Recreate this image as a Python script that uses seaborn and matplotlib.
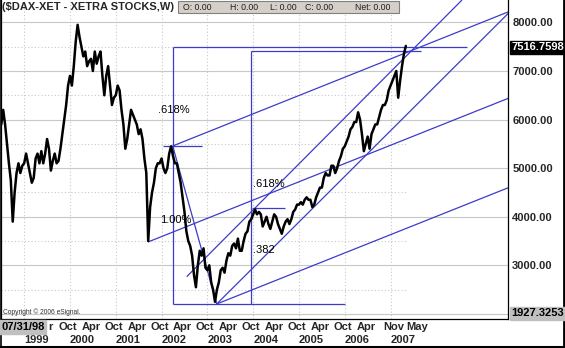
import numpy as np
import pandas as pd
import matplotlib
matplotlib.use("Agg")
import matplotlib.pyplot as plt
from matplotlib.lines import Line2D
from matplotlib.patches import Rectangle
import matplotlib.transforms as mtransforms
import seaborn as sns

# ---------------- data (semi-monthly readings, 1st and 15th of each month) ----------------
dax_1998 = [5900, 6200, 5900, 5500, 5100, 4750, 3900, 4500, 4900, 5100, 4900, 5050]
dax_1999 = [5100, 5300, 5100, 4900, 4700, 4800, 5200, 5300, 5100, 5350, 5100, 5300,
            5600, 5400, 4950, 5150, 5300, 5100, 5150, 5400, 5700, 6000, 6300, 6700]
dax_2000 = [6900, 6700, 7100, 7600, 7950, 7700, 7500, 7300, 7400, 7100, 7200, 7250,
            7000, 7400, 7150, 7300, 7400, 6900, 6500, 6900, 7100, 6700, 6300, 6450]
dax_2001 = [6500, 6700, 6600, 6200, 5900, 5400, 5600, 5900, 6200, 6100, 6000, 5900,
            5700, 5800, 5600, 5200, 4900, 3500, 4200, 4500, 4700, 5000, 5100, 5100]
dax_2002 = [5200, 5000, 4900, 5000, 5300, 5450, 5250, 5100, 5100, 4900, 4700, 4400,
            4100, 3700, 3500, 3400, 3200, 2800, 2550, 3000, 3300, 3200, 3350, 2950]
dax_2003 = [2900, 3000, 2650, 2500, 2250, 2500, 2650, 2900, 2950, 2850, 3100, 3250,
            3200, 3400, 3450, 3350, 3550, 3300, 3300, 3500, 3650, 3700, 3900, 3950]
dax_2004 = [4050, 4150, 4050, 4100, 4050, 3800, 3900, 4000, 3850, 3750, 3900, 4050,
            4000, 3850, 3750, 3650, 3800, 3900, 3950, 3850, 3950, 4100, 4150, 4250]
dax_2005 = [4250, 4300, 4250, 4350, 4400, 4350, 4350, 4200, 4250, 4400, 4500, 4600,
            4600, 4800, 4900, 4850, 4850, 5050, 5050, 4900, 5000, 5150, 5250, 5400]
dax_2006 = [5450, 5550, 5650, 5800, 5850, 5950, 5950, 6150, 6000, 5700, 5350, 5500,
            5650, 5400, 5700, 5800, 5900, 5900, 6050, 6200, 6300, 6300, 6400, 6600]
dax_2007 = [6700, 6800, 6900, 7000, 6450, 6800, 7100, 7350, 7516]
series_start = 1998.5          # 1 July 1998
last_price = "7516.7598"
cursor_price = "1927.3253"
cursor_date = "07/31/98"

# analysis lines (decimal year, index level)
ln_x0 = [2002.243, 2003.957, 2002.243, 2003.957, 2002.243, 2002.03, 2003.97,
         2002.243, 2002.549, 2003.204, 2001.704, 2003.204, 2002.243]
ln_y0 = [7490, 7420, 7490, 7420, 2205, 5457, 4187,
         5457, 2767, 2205, 3481, 2205, 5457]
ln_x1 = [2002.243, 2003.957, 2008.67, 2007.66, 2006.005, 2002.88, 2004.695,
         2009.571, 2008.56, 2009.571, 2009.571, 2009.571, 2003.204]
ln_y1 = [2205, 2205, 7490, 7420, 2205, 5457, 4187,
         8217, 8461, 8187, 6438, 4598, 2205]

fib_text = [".618%", "1.00%", ".618%", ".382"]
fib_x = [2001.92, 2001.966, 2003.997, 2003.997]
fib_y = [6197, 3934, 4674, 3316]

# first label is the tail of "Apr" left uncovered by the cursor-date box
month_lbl = ["r", "Oct", "Apr", "Oct", "Apr", "Oct", "Apr", "Oct", "Apr", "Oct",
             "Apr", "Oct", "Apr", "Oct", "Apr", "Nov", "May"]
month_pos = [1999.53, 1999.75, 2000.25, 2000.75, 2001.25, 2001.75, 2002.25, 2002.75,
             2003.25, 2003.75, 2004.25, 2004.75, 2005.25, 2005.75, 2006.25, 2006.833, 2007.333]
year_lbl = ["1999", "2000", "2001", "2002", "2003", "2004", "2005", "2006", "2007"]
year_pos = [1999.0, 2000.0, 2001.0, 2002.0, 2003.0, 2004.0, 2005.0, 2006.0, 2007.0]
price_ticks = [3000, 4000, 5000, 6000, 7000, 8000]

# ---------------- build ----------------
prices = dax_1998 + dax_1999 + dax_2000 + dax_2001 + dax_2002 + dax_2003 + dax_2004 + dax_2005 + dax_2006 + dax_2007
df = pd.DataFrame({"t": series_start + np.arange(len(prices)) / 24.0, "close": prices})

sns.set_style("white")
plt.rcParams["font.family"] = ["Liberation Sans", "DejaVu Sans"]

W, H = 565, 348
fig = plt.figure(figsize=(W / 100, H / 100), dpi=100)
fig.patch.set_facecolor("white")

def fx(x):
    return x / W

def fy(y):
    return 1 - y / H

ax = fig.add_axes([fx(1), fy(319), 507 / W, 319 / H])
ax.set_xlim(1998.494, 2009.564)
ax.set_ylim(1896, 8461)
ax.set_facecolor("white")

grid_c = "#c8c8c8"
last_t = df["t"].iloc[-1]
for v in [2000] + price_ticks:
    ax.axhline(v, color=grid_c, lw=0.8, zorder=0)
for v in [2500, 3500, 4500, 5500, 6500, 7500]:
    ax.hlines(v, ax.get_xlim()[0], last_t, color=grid_c, lw=0.8, linestyles=(0, (1, 2)), zorder=0)
for t in year_pos:
    ax.axvline(t, color=grid_c, lw=0.8, ls=(0, (1, 2)), zorder=0)

blue = "#3c3cc8"
for x0, y0, x1, y1 in zip(ln_x0, ln_y0, ln_x1, ln_y1):
    ax.plot([x0, x1], [y0, y1], color=blue, lw=0.9, zorder=2, solid_capstyle="butt")

sns.lineplot(data=df, x="t", y="close", color="black", lw=1.8, ax=ax, zorder=3)
ax.set_xlabel("")
ax.set_ylabel("")

for s, x, y in zip(fib_text, fib_x, fib_y):
    ax.text(x, y, s, fontsize=8, color="black", va="center", ha="left", zorder=4)

ax.yaxis.tick_right()
ax.set_yticks(price_ticks)
ax.set_yticklabels([f"{v:.2f}" for v in price_ticks], fontsize=8, fontweight="bold")
ax.tick_params(axis="y", length=0, pad=3)

ax.set_xticks(month_pos)
ax.set_xticklabels(month_lbl, fontsize=8, fontweight="bold", ha="left")
ax.tick_params(axis="x", length=0, pad=2)
trans = mtransforms.blended_transform_factory(ax.transData, fig.transFigure)
for s, x in zip(year_lbl, year_pos):
    ax.text(x, fy(340), s, transform=trans, fontsize=8, fontweight="bold", ha="left", va="center", clip_on=False)

ax.spines["top"].set_visible(False)
for sp in ["right", "bottom", "left"]:
    ax.spines[sp].set_color("black")
    ax.spines[sp].set_linewidth(0.9)

fig.text(fx(2), fy(7), "($DAX-XET - XETRA STOCKS,W)", fontsize=8, fontweight="bold", va="center", ha="left")
fig.add_artist(Rectangle((fx(178), fy(13)), (399 - 178) / W, 12 / H, transform=fig.transFigure,
                         facecolor="#d4d0c8", edgecolor="#808080", lw=0.8))
for s, x in zip(["O: 0.00", "H: 0.00", "L: 0.00", "C: 0.00", "Net: 0.00"], [183, 230, 270, 305, 355]):
    fig.text(fx(x), fy(7), s, fontsize=6.3, va="center", ha="left", color="#202020")

fig.text(fx(511), fy(47.5), last_price, fontsize=8, fontweight="bold", color="white", va="center", ha="left",
         bbox=dict(boxstyle="square,pad=0.12", facecolor="black", edgecolor="black"))
fig.text(fx(511), fy(313.5), cursor_price, fontsize=8, fontweight="bold", color="black", va="center", ha="left",
         bbox=dict(boxstyle="square,pad=0.12", facecolor="#c0c0c0", edgecolor="#c0c0c0"))
fig.text(fx(1), fy(327), cursor_date, fontsize=8, fontweight="bold", color="black", va="center", ha="left",
         bbox=dict(boxstyle="square,pad=0.15", facecolor="#c0c0c0", edgecolor="#c0c0c0"), zorder=5)
fig.text(fx(3), fy(312), "Copyright \u00a9 2006 eSignal.", fontsize=4.8, color="#303030", va="center", ha="left")

fig.add_artist(Line2D([fx(0.5), fx(0.5)], [0, 1], color="black", lw=1.2, transform=fig.transFigure))
fig.add_artist(Line2D([fx(564), fx(564)], [0, 1], color="black", lw=2, transform=fig.transFigure))
fig.add_artist(Line2D([0, 1], [fy(346.5), fy(346.5)], color="black", lw=2.2, transform=fig.transFigure))

fig.savefig("out.png", dpi=100, facecolor="white")
